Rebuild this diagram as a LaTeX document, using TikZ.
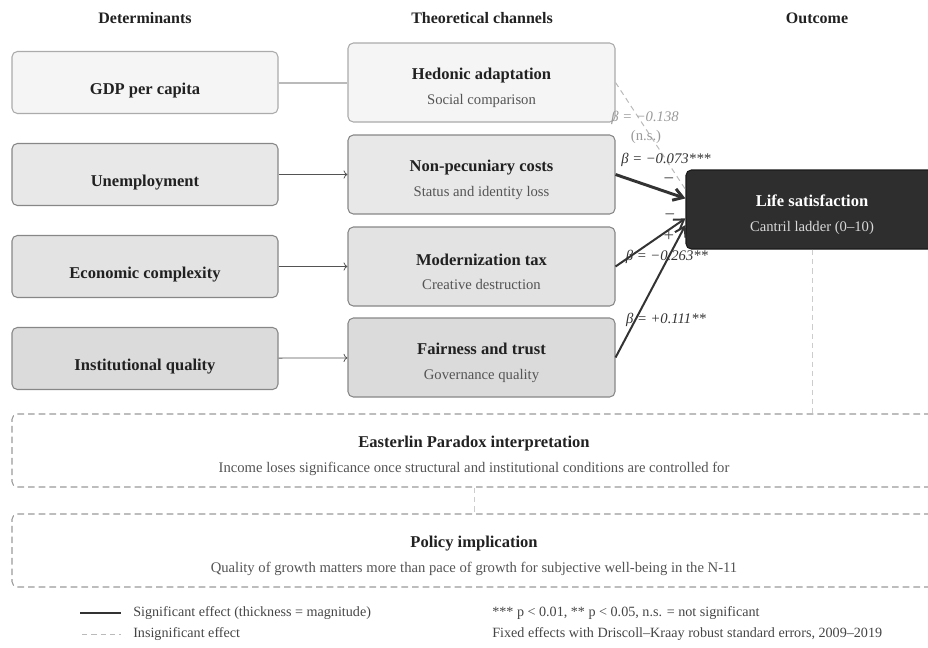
\documentclass[tikz,border=0pt]{standalone}
\usepackage{fontspec}
\setmainfont{Liberation Serif}
\usetikzlibrary{arrows.meta,calc}

\newcommand{\boxtitle}{\fontsize{12.4}{14}\selectfont\bfseries\color{black!87}}
\newcommand{\boxsub}{\fontsize{11}{13}\selectfont}
\newcommand{\ttl}[1]{{\boxtitle\rule{0pt}{16.5pt}#1}}

\begin{document}
\begin{tikzpicture}[x=.75pt, y=-.75pt]
	\tikzstyle{box}=[draw, rounded corners=4pt, inner sep=0pt, align=center]
	\tikzstyle{det}=[box, draw=black!47, line width=.8pt, minimum width=199.5pt, minimum height=46.5pt, font=\boxtitle, text height=20pt, text depth=2pt]
	\tikzstyle{chan}=[box, draw=black!47, line width=.8pt, minimum width=200.25pt, minimum height=59.25pt, font=\boxsub, text=black!67]
	\tikzstyle{note}=[box, draw=black!40, line width=.8pt, dash pattern=on 5pt off 3pt, minimum width=693pt, minimum height=54.75pt, font=\boxsub, text=black!67]
	\tikzstyle{head}=[font=\fontsize{12}{14}\selectfont\bfseries, text=black!87]
	\tikzstyle{coef}=[font=\fontsize{11}{13}\selectfont\itshape, text=black!80, inner sep=0pt]
	\tikzstyle{sign}=[font=\fontsize{14}{16}\selectfont, text=black!73, inner sep=0pt]
	\tikzstyle{key}=[font=\fontsize{10.6}{12}\selectfont, text=black!73, anchor=west, inner sep=0pt]
	\tikzstyle{link}=[draw=black!67, line width=.6pt, ->]
	\tikzstyle{eff}=[draw=black!80, -{Straight Barb[length=7pt, width=9pt]}]
	\tikzstyle{ns}=[draw=black!27, line width=.75pt, dash pattern=on 4pt off 3pt]
	\useasboundingbox (0,0) rectangle (928,647);
		\node[head] (h1) at (145,18) {Determinants};
		\node[head] (h2) at (482,18) {Theoretical channels};
		\node[head] (h3) at (817,18) {Outcome};
		
		\node[det, fill=black!4, draw=black!33] (gdp) at (145,82.5) {GDP per capita};
		\node[det, fill=black!9] (unemp) at (145,174.5) {Unemployment};
		\node[det, fill=black!11] (eci) at (145,266.5) {Economic complexity};
		\node[det, fill=black!14] (inst) at (145,358.5) {Institutional quality};
		
		\node[chan, fill=black!4, draw=black!33] (hed) at (481.5,82.5) {\ttl{Hedonic adaptation}\\[5.5pt]Social comparison};
		\node[chan, fill=black!9] (npc) at (481.5,174.5) {\ttl{Non-pecuniary costs}\\[5.5pt]Status and identity loss};
		\node[chan, fill=black!11] (mod) at (481.5,266.5) {\ttl{Modernization tax}\\[5.5pt]Creative destruction};
		\node[chan, fill=black!14] (fair) at (481.5,357.5) {\ttl{Fairness and trust}\\[5.5pt]Governance quality};
		
		\node[box, fill=black!82, draw=black!90, line width=.8pt, minimum width=189pt, minimum height=59.25pt, font=\boxsub, text=black!15] (life) at (812,209.5) {{\fontsize{12.4}{14}\selectfont\bfseries\color{white}\rule{0pt}{16.5pt}Life satisfaction}\\[5.5pt]Cantril ladder (0--10)};
		
		\node[note] (east) at (474,450.5) {\ttl{Easterlin Paradox interpretation}\\[5.5pt]Income loses significance once structural and institutional conditions are controlled for};
		\node[note] (pol) at (474,550.5) {\ttl{Policy implication}\\[5.5pt]Quality of growth matters more than pace of growth for subjective well-being in the N-11};
		
		%========================================================================
		% Arrows
		\draw[draw=black!27, line width=1.5pt] (gdp) -- (hed);
		\draw[link] (unemp) -- (npc);
		\draw[link] (eci) -- (mod);
		\draw[link] (inst) -- (fair);
		
		\draw[ns] (hed.east) -- (life.171);
		\draw[eff, line width=2.2pt] (npc.east) -- (life.175);
		\draw[eff, line width=1.5pt] (mod.east) -- (life.184);
		\draw[eff, line width=1.5pt] (fair.east) -- (life.187);
		
		\draw[ns, draw=black!20] (life.south) -- (life.south |- east.north);
		\draw[ns, draw=black!20] (east) -- (pol);
		
		%========================================================================
		% Coefficients
		\node[coef, text=black!40] (b1) at (645,118) {β = −0.138};
		\node[font=\fontsize{11}{13}\selectfont, text=black!40, inner sep=0pt] (b1ns) at (646,137) {(n.s.)};
		\node[coef] (b2) at (666,160) {β = −0.073***};
		\node[coef] (b3) at (667,257) {β = −0.263**};
		\node[coef] (b4) at (666,320) {β = +0.111**};
		
		\node[sign] (s2) at (669,181) {−};
		\node[sign] (s3) at (670,217) {−};
		\node[sign] (s4) at (669,236) {+};
		
		%========================================================================
		% Key
		\coordinate (k1a) at (80,613);
		\coordinate (k1b) at (121,613);
		\coordinate (k2a) at (82,634);
		\coordinate (k2b) at (121,634);
		\draw[draw=black!80, line width=2.2pt] (k1a) -- (k1b);
		\draw[ns] (k2a) -- (k2b);
		\node[key] (k1) at (133,613) {Significant effect (thickness = magnitude)};
		\node[key] (k2) at (133,634) {Insignificant effect};
		\node[key] (k3) at (492,613) {*** p < 0.01, ** p < 0.05, n.s. = not significant};
		\node[key] (k4) at (492,634) {Fixed effects with Driscoll--Kraay robust standard errors, 2009--2019};
	\end{tikzpicture}
\end{document}
